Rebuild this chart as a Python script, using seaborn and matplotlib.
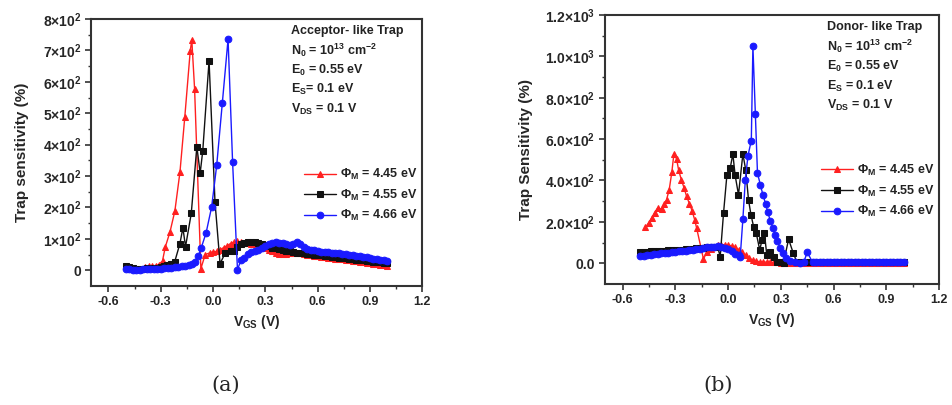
import matplotlib
matplotlib.use("Agg")
import matplotlib.pyplot as plt
import seaborn as sns
import numpy as np
import pandas as pd


def grid(start, stop, step):
    """Evenly spaced gate-voltage sample points, end point included."""
    n = int(np.floor((stop - start) / step + 1e-6)) + 1
    return list(np.round(start + step * np.arange(n), 3))


# ---------------- data ----------------
# (a) acceptor-like trap, Phi_M = 4.45 eV
a_x_445 = (grid(-0.39, -0.31, 0.02)
           + [-0.29, -0.274, -0.247, -0.219, -0.19, -0.162, -0.131, -0.122, -0.106, -0.07,
              -0.045, -0.02, 0.0, 0.02, 0.04, 0.06, 0.08, 0.10, 0.12, 0.14]
           + grid(0.16, 1.0, 0.02))
a_y_445 = ([10, 12, 14, 15, 18]
           + [30, 74, 122, 189, 312, 489, 698, 734, 578, 5,
              50, 55, 58, 60, 65, 72, 78, 85, 90, 92]
           + [90, 88, 86, 84, 82, 80, 76, 70, 64, 60, 56, 53, 52, 53, 55, 56, 56, 55, 53, 50,
              48, 46, 45, 43, 42, 40, 39, 37, 36, 35, 33, 32, 30, 29, 27, 26, 24, 23, 21, 20,
              18, 17, 15])

# (a) Phi_M = 4.55 eV
a_x_455 = (grid(-0.5, -0.28, 0.02)
           + [-0.264, -0.24, -0.22, -0.19, -0.173, -0.158, -0.125, -0.093, -0.074, -0.059,
              -0.023, 0.011, 0.04, 0.07, 0.10, 0.12]
           + grid(0.14, 1.0, 0.02))
a_y_455 = ([13, 10, 7, 5, 5, 5, 6, 6, 7, 8, 10, 12]
           + [16, 20, 27, 85, 135, 75, 181, 394, 309, 381,
              667, 218, 21, 55, 60, 62]
           + [75, 82, 88, 90, 91, 90, 88, 84, 80, 76, 72, 70, 67, 64, 62, 60, 58, 56, 55, 54,
              52, 51, 50, 48, 47, 46, 44, 43, 42, 40, 39, 38, 36, 35, 34, 32, 31, 30, 29, 27,
              26, 25, 24, 23])

# (a) Phi_M = 4.66 eV
a_x_466 = (grid(-0.5, -0.14, 0.02)
           + [-0.12, -0.103, -0.085, -0.068, -0.04, -0.008, 0.021, 0.053, 0.086, 0.112, 0.14]
           + grid(0.16, 1.0, 0.02))
a_y_466 = ([3, 3, 2, 2, 2, 3, 3, 4, 4, 5, 5, 6, 7, 8, 9, 10, 12, 14, 16]
           + [20, 27, 45, 71, 119, 202, 335, 532, 736, 344, 2]
           + [32, 40, 53, 58, 62, 66, 70, 76, 82, 88, 90, 88, 86, 84, 80, 82, 90, 82, 74, 69,
              66, 63, 61, 59, 58, 57, 56, 55, 54, 53, 52, 50, 48, 46, 44, 43, 41, 39, 37, 35,
              33, 31, 30])

# (b) donor-like trap, Phi_M = 4.45 eV
b_x_445 = ([-0.47, -0.452, -0.435, -0.418, -0.40, -0.378, -0.364, -0.35, -0.335, -0.32, -0.308,
            -0.293, -0.281, -0.266, -0.25, -0.236, -0.22, -0.205, -0.19, -0.179]
           + grid(-0.14, 1.0, 0.02))
b_y_445 = ([173, 195, 218, 245, 267, 262, 285, 307, 355, 440, 530,
            504, 449, 404, 363, 323, 288, 254, 210, 170]
           + [20, 55, 70, 80, 86, 88, 90, 88, 84, 76, 66, 52, 38, 25, 15, 10, 7, 6, 5, 4,
              4, 4, 3, 3, 3, 3, 3, 3, 3, 3, 3, 3, 3, 3, 3, 3, 3, 3, 3, 3,
              3, 3, 3, 3, 3, 3, 3, 3, 3, 3, 3, 3, 3, 3, 3, 3, 3, 3])

# (b) Phi_M = 4.55 eV
b_x_455 = (grid(-0.5, -0.06, 0.02)
           + [-0.045, -0.026, -0.007, 0.012, 0.027, 0.04, 0.059, 0.084, 0.10, 0.116, 0.13,
              0.145, 0.16, 0.18, 0.193, 0.206, 0.22, 0.24, 0.26, 0.28, 0.30, 0.315, 0.344,
              0.37, 0.39]
           + grid(0.42, 1.0, 0.02))
b_y_455 = ([55, 55, 56, 57, 58, 59, 60, 61, 62, 63, 64, 65, 66, 67, 68, 70, 72, 74, 75, 76,
            78, 78, 80]
           + [32, 242, 425, 460, 528, 425, 331, 528, 452, 307, 234,
              177, 145, 64, 113, 148, 40, 55, 30, 8, 4, 2, 116,
              50, 8]
           + [5, 5, 5, 6, 5, 5, 5, 5, 6, 5, 5, 5, 5, 5, 5, 5, 5, 5, 5, 5, 6, 8, 7, 6, 6, 5,
              5, 5, 5, 5])

# (b) Phi_M = 4.66 eV
b_x_466 = (grid(-0.5, 0.06, 0.02)
           + [0.069, 0.084, 0.098, 0.113, 0.132, 0.141, 0.155, 0.167, 0.183, 0.198, 0.213,
              0.226, 0.24, 0.255, 0.268, 0.28, 0.297, 0.31, 0.33, 0.354, 0.38, 0.41, 0.43,
              0.45]
           + grid(0.48, 1.0, 0.02))
b_y_466 = ([35, 37, 39, 41, 43, 45, 47, 49, 51, 53, 55, 57, 59, 61, 63, 65, 68, 70, 73, 76,
            78, 80, 82, 80, 75, 68, 58, 45, 38]
           + [32, 213, 404, 520, 593, 1050, 720, 436, 380, 331, 288,
              246, 205, 170, 137, 105, 73, 48, 24, 11, 5, 3, 5,
              53]
           + [5, 4, 4, 4, 4, 4, 4, 4, 4, 4, 4, 4, 4, 4, 4, 4, 4, 4, 4, 4, 4, 4, 4, 4, 4, 4,
              4])

series_labels = [r"$\Phi_M$ = 4.45 eV", r"$\Phi_M$ = 4.55 eV", r"$\Phi_M$ = 4.66 eV"]

x_ticks = [-0.6, -0.3, 0.0, 0.3, 0.6, 0.9, 1.2]
x_tick_labels = ["-0.6", "-0.3", "0.0", "0.3", "0.6", "0.9", "1.2"]
a_y_ticks = [0, 100, 200, 300, 400, 500, 600, 700, 800]
a_y_tick_labels = ["0", r"1×10$^2$", r"2×10$^2$", r"3×10$^2$", r"4×10$^2$", r"5×10$^2$",
                   r"6×10$^2$", r"7×10$^2$", r"8×10$^2$"]
b_y_ticks = [0, 200, 400, 600, 800, 1000, 1200]
b_y_tick_labels = ["0.0", r"2.0×10$^2$", r"4.0×10$^2$", r"6.0×10$^2$", r"8.0×10$^2$",
                   r"1.0×10$^3$", r"1.2×10$^3$"]

a_notes = ["Acceptor- like Trap", r"N$_0$ = 10$^{13}$ cm$^{-2}$", r"E$_0$ = 0.55 eV",
           r"E$_S$= 0.1 eV", r"V$_{DS}$ = 0.1 V"]
b_notes = ["Donor- like Trap", r"N$_0$ = 10$^{13}$ cm$^{-2}$", r"E$_0$ = 0.55 eV",
           r"E$_S$ = 0.1 eV", r"V$_{DS}$ = 0.1 V"]

# ---------------- style ----------------
sns.set_style("ticks")
plt.rcParams["font.family"] = ["Liberation Sans", "DejaVu Sans"]
plt.rcParams["font.weight"] = "bold"
plt.rcParams["mathtext.fontset"] = "custom"
plt.rcParams["mathtext.rm"] = "Liberation Sans:bold"
plt.rcParams["mathtext.it"] = "Liberation Sans:bold"
plt.rcParams["mathtext.bf"] = "Liberation Sans:bold"

colors = ["#ff2020", "#111111", "#1a1aff"]
markers = ["^", "s", "o"]

fig = plt.figure(figsize=(9.52, 4.05), dpi=100)
ax_a = fig.add_axes([0.0956, 0.294, 0.348, 0.659])
ax_b = fig.add_axes([0.6355, 0.299, 0.351, 0.664])


def draw_panel(ax, xs, ys, yticks, yticklabels, ylim, ylabel, notes, note_x, legend_anchor,
               ylabelpad):
    for i, (x, y) in enumerate(zip(xs, ys)):
        df = pd.DataFrame({"VGS": x, "S": y})
        sns.lineplot(data=df, x="VGS", y="S", ax=ax, color=colors[i], marker=markers[i],
                     markersize=4.8, markeredgecolor=colors[i], linewidth=1.0,
                     sort=False, estimator=None, label=series_labels[i])
    ax.set_xlim(-0.7, 1.2)
    ax.set_ylim(*ylim)
    ax.set_xticks(x_ticks)
    ax.set_xticklabels(x_tick_labels, fontsize=9, fontweight="bold")
    ax.set_yticks(yticks)
    ax.set_yticklabels(yticklabels, fontsize=10, fontweight="bold")
    ax.set_xticks([-0.45, -0.15, 0.15, 0.45, 0.75, 1.05], minor=True)
    minor_y = [(yticks[k] + yticks[k + 1]) / 2 for k in range(len(yticks) - 1)]
    ax.set_yticks(minor_y, minor=True)
    ax.tick_params(axis="both", which="major", direction="out", length=4, width=1.2,
                   color="#333333", pad=3)
    ax.tick_params(axis="both", which="minor", direction="out", length=2.5, width=1.0,
                   color="#333333")
    for sp in ax.spines.values():
        sp.set_visible(True)
        sp.set_linewidth(1.5)
        sp.set_color("#333333")
    ax.set_xlabel(r"V$_{GS}$ (V)", fontsize=10, fontweight="bold", labelpad=4)
    ax.set_ylabel(ylabel, fontsize=11, fontweight="bold", labelpad=ylabelpad)
    for k, line in enumerate(notes):
        ax.text(note_x, 0.955 - k * 0.073, line, transform=ax.transAxes, fontsize=9,
                fontweight="bold", va="center", ha="left", color="#222222")
    leg = ax.legend(loc="center right", bbox_to_anchor=legend_anchor, frameon=False,
                    fontsize=9, handlelength=2.6, handletextpad=0.3, labelspacing=0.45,
                    borderaxespad=0.0)
    for t in leg.get_texts():
        t.set_fontweight("bold")
        t.set_color("#222222")


draw_panel(ax_a, [a_x_445, a_x_455, a_x_466], [a_y_445, a_y_455, a_y_466],
           a_y_ticks, a_y_tick_labels, (-50, 800), "Trap sensitivity (%)",
           a_notes, 0.605, (1.0, 0.34), 10)
draw_panel(ax_b, [b_x_445, b_x_455, b_x_466], [b_y_445, b_y_455, b_y_466],
           b_y_ticks, b_y_tick_labels, (-100, 1200), "Trap Sensitivity (%)",
           b_notes, 0.665, (1.0, 0.345), 9)

fig.text(226 / 952, 1 - 385 / 405, "(a)", fontsize=15, fontweight="normal",
         family="DejaVu Serif", ha="center", va="center")
fig.text(718 / 952, 1 - 385 / 405, "(b)", fontsize=15, fontweight="normal",
         family="DejaVu Serif", ha="center", va="center")

fig.savefig("out.png", dpi=100, facecolor="white")
